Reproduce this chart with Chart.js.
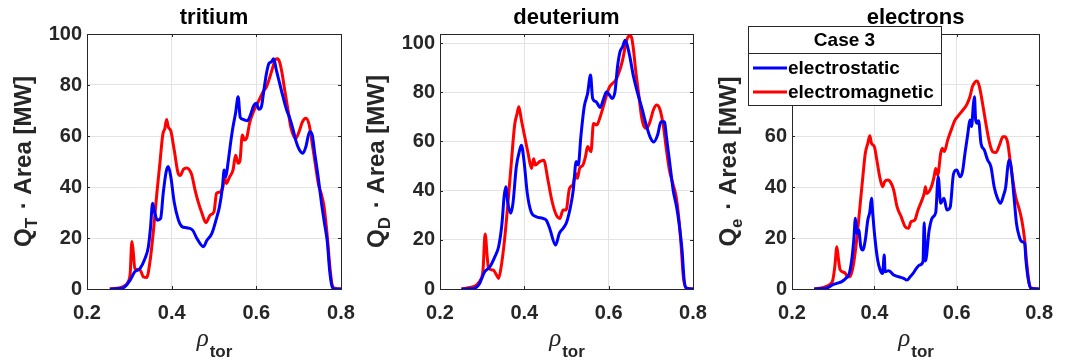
<!DOCTYPE html>
<html>
<head>
<meta charset="utf-8">
<script src="https://cdn.jsdelivr.net/npm/chart.js@4/dist/chart.umd.min.js"></script>
<style>
  body { margin: 0; background: #fff; }
  #wrap { position: relative; width: 1065px; height: 362px; overflow: hidden; }
  canvas { position: absolute; top: 0; }
</style>
</head>
<body>
<div id="wrap">
  <canvas id="c1" width="370" height="362" style="left:0px"></canvas>
  <canvas id="c2" width="370" height="362" style="left:350px"></canvas>
  <canvas id="c3" width="365" height="362" style="left:700px"></canvas>
</div>
<script>
// данные
const xTicks = [0.2, 0.4, 0.6, 0.8];
const seriesNames = ['electrostatic', 'electromagnetic'];

// tritium
const triEsX = [0.254,0.286,0.302,0.313,0.325,0.337,0.345,0.350,0.355,0.360,0.366,0.374,0.380,0.387,0.392,0.398,0.406,0.416,0.424,0.435,0.450,0.459,0.475,0.483,0.495,0.507,0.513,0.520,0.524,0.528,0.533,0.539,0.545,0.551,0.557,0.562,0.569,0.579,0.586,0.594,0.600,0.606,0.612,0.617,0.624,0.630,0.635,0.641,0.647,0.655,0.663,0.672,0.679,0.687,0.694,0.702,0.710,0.717,0.726,0.732,0.738,0.746,0.754,0.761,0.768,0.773,0.779,0.785,0.800];
const triEsY = [0,0.5,3.5,6.8,8,12,16.6,24,33.6,30,27,27.7,37.5,46,48,44,34,27,24.5,24,23,20,16.6,19,21.8,28.4,32.3,40,46.7,44,49.3,57,63.7,69,75.4,67.3,66.5,66,68.2,72,72.8,70.5,71.5,77,84.6,88.5,89,90.3,86,80.7,75.4,70,67,62.4,57.8,54.5,53.2,55.8,61.7,60.4,53.2,44,33.6,25.8,18,7.5,1,0,0];
const triEmX = [0.254,0.286,0.298,0.302,0.306,0.309,0.313,0.325,0.333,0.341,0.349,0.357,0.365,0.372,0.379,0.384,0.388,0.392,0.398,0.406,0.416,0.420,0.428,0.435,0.447,0.455,0.463,0.471,0.481,0.491,0.500,0.506,0.514,0.521,0.525,0.529,0.537,0.545,0.551,0.557,0.561,0.567,0.572,0.578,0.584,0.592,0.600,0.608,0.616,0.624,0.631,0.639,0.645,0.650,0.655,0.661,0.667,0.675,0.681,0.687,0.693,0.701,0.709,0.717,0.725,0.732,0.739,0.747,0.754,0.760,0.767,0.773,0.779,0.785,0.800];
const triEmY = [0,1,3,6,18.6,15,8,7.5,4.8,4.5,11,23,37.5,49,60.5,63,66.5,63.5,62,54.5,45,44.5,47,47.5,45,39,34,30,26,29,30.3,37.5,38,40,44,41.4,44,46.7,52.5,49.3,50,60.4,58.4,59.7,65,69,72,74.6,77.4,79.3,82.6,87,90,90.3,89,84.4,78,70,63.7,60.4,59,61.7,65.6,67,64.3,57,49.3,40.8,36.9,32.3,21.8,10,1.6,0.3,0];

// deuterium
const deuEsX = [0.251,0.282,0.294,0.306,0.318,0.330,0.339,0.347,0.352,0.356,0.361,0.368,0.373,0.381,0.389,0.393,0.399,0.407,0.416,0.428,0.444,0.452,0.460,0.474,0.483,0.492,0.500,0.511,0.516,0.523,0.528,0.534,0.542,0.550,0.557,0.562,0.570,0.580,0.587,0.595,0.602,0.608,0.615,0.621,0.627,0.633,0.639,0.645,0.651,0.659,0.669,0.679,0.688,0.698,0.707,0.716,0.724,0.732,0.737,0.745,0.753,0.761,0.767,0.774,0.779,0.785,0.800];
const deuEsY = [0,0.3,2.3,7,9,13.1,17.2,26.7,37.5,41.6,34.8,30.8,34.8,49.7,56.5,58.5,52.4,38.9,31.4,29.4,28.7,28,24.7,17.9,22.6,24.7,27,34.8,40.2,51.8,50.4,61.9,74.1,79.5,87,77.5,76.2,73.8,76.8,80.2,78.9,77.5,80.2,90.4,96.5,98.5,101.2,98.5,93.8,86.3,79.5,73.4,67.3,61.9,59.8,62.6,68,68,61.9,51.1,40.2,33.5,26.7,15.9,3.7,0.3,0];
const deuEmX = [0.251,0.274,0.286,0.296,0.302,0.307,0.312,0.315,0.326,0.334,0.339,0.345,0.353,0.361,0.369,0.377,0.383,0.387,0.393,0.401,0.409,0.417,0.422,0.426,0.436,0.446,0.456,0.465,0.476,0.484,0.492,0.499,0.507,0.515,0.522,0.526,0.531,0.539,0.545,0.550,0.558,0.564,0.572,0.578,0.586,0.594,0.602,0.609,0.617,0.625,0.633,0.641,0.647,0.653,0.658,0.664,0.672,0.678,0.684,0.690,0.698,0.706,0.714,0.722,0.730,0.736,0.744,0.752,0.760,0.766,0.772,0.777,0.784,0.800];
const deuEmY = [0,0.7,1.6,3.7,7.7,22.4,13.1,8.4,7.7,5.7,4.3,9,19.9,34.8,51,66.7,71.4,74.1,68.7,61.9,55.1,49,53,50.4,51.8,52.4,44.3,36.2,30,28.7,32.1,32.1,40.9,42.3,47,45,49,50.4,53.8,57.9,55.8,67.3,66.7,69,73.4,78.2,82.2,83.6,85,88.3,93.1,99.9,102.8,102.8,98.5,89,78.2,70,66,65.3,68,72.8,74.8,72.8,66,57.9,48.4,43,37.5,29.4,17.2,5,0.3,0];

// electrons
const eleEsX = [0.254,0.286,0.298,0.309,0.321,0.331,0.339,0.345,0.350,0.354,0.358,0.362,0.367,0.372,0.378,0.384,0.389,0.393,0.396,0.401,0.408,0.414,0.420,0.424,0.426,0.435,0.447,0.459,0.471,0.479,0.487,0.494,0.502,0.510,0.518,0.521,0.524,0.533,0.541,0.549,0.555,0.561,0.569,0.576,0.584,0.592,0.600,0.608,0.614,0.620,0.627,0.632,0.636,0.640,0.643,0.646,0.650,0.653,0.659,0.667,0.675,0.683,0.691,0.698,0.706,0.714,0.719,0.724,0.727,0.732,0.739,0.745,0.752,0.758,0.765,0.768,0.774,0.780,0.800];
const eleEsY = [0,0.5,1.6,2.2,2.9,4.2,6.1,11.4,19.2,27.7,21.8,23.1,16.6,15.3,19.2,27,30.3,35.6,29.7,20.5,11.4,7.5,6.1,13.3,6.8,7.2,5.5,4.8,4.2,3.5,4.8,6.1,8.1,9.4,10.7,26,11,23,28,30,44,33.6,35.6,31,32,45,46.7,44,46,53.2,61,66.3,63.7,71.5,75.4,66.3,65,66,57,54.5,50.6,48,40,36,33.6,36.9,40.1,48,50.6,48,36.2,25.8,20.5,18.6,17.9,11.4,3.5,0.3,0];
const eleEmX = [0.254,0.278,0.290,0.299,0.304,0.309,0.313,0.317,0.328,0.335,0.341,0.349,0.357,0.365,0.372,0.378,0.384,0.389,0.393,0.400,0.406,0.413,0.420,0.425,0.433,0.441,0.447,0.455,0.465,0.475,0.483,0.489,0.498,0.506,0.514,0.521,0.524,0.527,0.537,0.545,0.549,0.554,0.561,0.565,0.570,0.578,0.588,0.596,0.605,0.615,0.624,0.632,0.638,0.645,0.650,0.656,0.664,0.672,0.680,0.687,0.695,0.704,0.712,0.718,0.724,0.729,0.735,0.743,0.750,0.758,0.765,0.770,0.776,0.781,0.800];
const eleEmY = [0,0.7,1.6,3.5,8.8,16.6,11.4,7.5,6.4,4.8,4.8,9.4,19.2,32.3,44,53.2,57.1,60.1,57.1,55.8,50.6,44,40.1,42.1,42.7,41.4,38.8,32.3,28.4,24.4,23.8,26.4,27,31,34.2,37.5,40.1,37.5,39.5,44,47.3,44.7,53.2,55.2,53.9,58.4,63,66.3,68.2,70.2,72.2,75.4,79.3,81.3,81.6,78.7,71.5,63.7,57.1,53.9,53.5,56.5,59.7,59.7,57.1,51.2,44,36.2,32.3,27,19.2,10,2.2,0.3,0];

const pts = (xs, ys) => xs.map((x, i) => ({ x: x, y: ys[i] }));

const AXIS_COLOR = '#262626';
const FONT = '"Liberation Sans", Arial, sans-serif';

// рамка осей, внутренние засечки и подписи осей с индексами
const matlabAxes = {
  id: 'matlabAxes',
  beforeDatasetsDraw(chart) {
    const a = chart.chartArea, ctx = chart.ctx;
    const xs = chart.scales.x, ys = chart.scales.y;
    ctx.save();
    ctx.strokeStyle = AXIS_COLOR;
    ctx.lineWidth = 1;
    ctx.strokeRect(Math.round(a.left) + 0.5, Math.round(a.top) + 0.5,
      Math.round(a.right - a.left), Math.round(a.bottom - a.top));
    const tl = 3;
    ctx.beginPath();
    xs.ticks.forEach(t => {
      const px = Math.round(xs.getPixelForValue(t.value)) + 0.5;
      ctx.moveTo(px, a.bottom); ctx.lineTo(px, a.bottom - tl);
      ctx.moveTo(px, a.top); ctx.lineTo(px, a.top + tl);
    });
    ys.ticks.forEach(t => {
      const py = Math.round(ys.getPixelForValue(t.value)) + 0.5;
      ctx.moveTo(a.left, py); ctx.lineTo(a.left + tl, py);
      ctx.moveTo(a.right, py); ctx.lineTo(a.right - tl, py);
    });
    ctx.stroke();
    ctx.restore();
  },
  afterDraw(chart, args, opts) {
    const a = chart.chartArea, ctx = chart.ctx;
    ctx.save();
    ctx.fillStyle = AXIS_COLOR;
    ctx.textBaseline = 'alphabetic';
    // y label
    const F = 24, Fs = 17;
    ctx.translate(a.left - 56, (a.top + a.bottom) / 2);
    ctx.rotate(-Math.PI / 2);
    ctx.font = 'bold ' + F + 'px ' + FONT;
    const w1 = ctx.measureText('Q').width;
    const rest = ' \u00B7 Area [MW]';
    const w3 = ctx.measureText(rest).width;
    ctx.font = 'bold ' + Fs + 'px ' + FONT;
    const w2 = ctx.measureText(opts.sub).width + 2;
    let s = -(w1 + w2 + w3) / 2;
    ctx.font = 'bold ' + F + 'px ' + FONT;
    ctx.fillText('Q', s, 0);
    ctx.font = 'bold ' + Fs + 'px ' + FONT;
    ctx.fillText(opts.sub, s + w1, 6);
    ctx.font = 'bold ' + F + 'px ' + FONT;
    ctx.fillText(rest, s + w1 + w2, 0);
    ctx.restore();

    // x label
    ctx.save();
    ctx.fillStyle = AXIS_COLOR;
    ctx.textBaseline = 'alphabetic';
    ctx.font = 'italic 25px "Liberation Serif", serif';
    const r1 = ctx.measureText('\u03C1').width;
    ctx.font = 'bold 17px ' + FONT;
    const r2 = ctx.measureText('tor').width;
    const cx = (a.left + a.right) / 2;
    let sx = cx - (r1 + r2) / 2;
    ctx.font = 'italic 25px "Liberation Serif", serif';
    ctx.fillText('\u03C1', sx, 346);
    ctx.font = 'bold 17px ' + FONT;
    ctx.fillText('tor', sx + r1 + 1, 357);
    ctx.restore();
  }
};

// легенда с заголовком "Case 3"
const caseLegend = {
  id: 'caseLegend',
  afterDraw(chart, args, opts) {
    if (!opts.show) return;
    const ctx = chart.ctx;
    const x = opts.x, y = opts.y, w = opts.w, h = opts.h;
    ctx.save();
    ctx.fillStyle = '#fff';
    ctx.fillRect(x, y, w, h);
    ctx.strokeStyle = AXIS_COLOR;
    ctx.lineWidth = 1;
    ctx.strokeRect(x + 0.5, y + 0.5, w, h);
    ctx.beginPath();
    ctx.moveTo(x, y + 27.5); ctx.lineTo(x + w, y + 27.5);
    ctx.stroke();
    ctx.fillStyle = '#000';
    ctx.font = 'bold 19px ' + FONT;
    ctx.textAlign = 'center';
    ctx.textBaseline = 'middle';
    ctx.fillText(opts.title, x + w / 2, y + 15);
    ctx.textAlign = 'left';
    chart.data.datasets.forEach((ds, i) => {
      const ly = y + 42 + i * 24;
      ctx.strokeStyle = ds.borderColor;
      ctx.lineWidth = 3;
      ctx.beginPath();
      ctx.moveTo(x + 5, ly); ctx.lineTo(x + 39, ly);
      ctx.stroke();
      ctx.fillStyle = '#000';
      ctx.fillText(ds.label, x + 40, ly + 1);
    });
    ctx.restore();
  }
};

function makeChart(id, title, sub, esData, emData, yMax, padRight, yWidth, legend) {
  const ctx = document.getElementById(id).getContext('2d');
  return new Chart(ctx, {
    type: 'line',
    data: {
      datasets: [
        { label: seriesNames[0], data: esData, borderColor: '#0000ff', borderWidth: 3,
          pointRadius: 0, fill: false, cubicInterpolationMode: 'monotone' },
        { label: seriesNames[1], data: emData, borderColor: '#ff0000', borderWidth: 3,
          pointRadius: 0, fill: false, cubicInterpolationMode: 'monotone' }
      ]
    },
    options: {
      responsive: false,
      animation: false,
      devicePixelRatio: 1,
      layout: { autoPadding: false, padding: { left: 0, right: padRight, top: 0, bottom: 0 } },
      plugins: {
        legend: { display: false },
        tooltip: { enabled: false },
        title: {
          display: true, text: title, fullSize: false, color: '#000',
          font: { family: FONT, size: 22, weight: 'bold', lineHeight: 1.2 },
          padding: { top: 5, bottom: 2.6 }
        },
        matlabAxes: { sub: sub },
        caseLegend: legend || { show: false }
      },
      scales: {
        x: {
          type: 'linear', min: 0.2, max: 0.8,
          afterBuildTicks: s => { s.ticks = xTicks.map(v => ({ value: v })); },
          afterFit: s => { s.height = 73; },
          border: { display: false },
          grid: { color: '#e3e3e3', drawTicks: false },
          ticks: { color: AXIS_COLOR, padding: 12, font: { family: FONT, size: 20, weight: 'bold' },
                   callback: v => v.toFixed(1) }
        },
        y: {
          min: 0, max: yMax,
          afterFit: s => { s.width = yWidth; },
          border: { display: false },
          grid: { color: '#e3e3e3', drawTicks: false },
          ticks: { stepSize: 20, includeBounds: false, color: AXIS_COLOR, padding: 5,
                   font: { family: FONT, size: 20, weight: 'bold' },
                   callback: v => String(Math.round(v)) }
        }
      }
    },
    plugins: [matlabAxes, caseLegend]
  });
}

makeChart('c1', 'tritium', 'T', pts(triEsX, triEsY), pts(triEmX, triEmY), 100, 29, 87);
makeChart('c2', 'deuterium', 'D', pts(deuEsX, deuEsY), pts(deuEmX, deuEmY), 103.7, 27, 90);
makeChart('c3', 'electrons', 'e', pts(eleEsX, eleEsY), pts(eleEmX, eleEmY), 100, 19, 92,
  { show: true, title: 'Case 3', x: 48, y: 26, w: 193, h: 79 });
</script>
</body>
</html>
